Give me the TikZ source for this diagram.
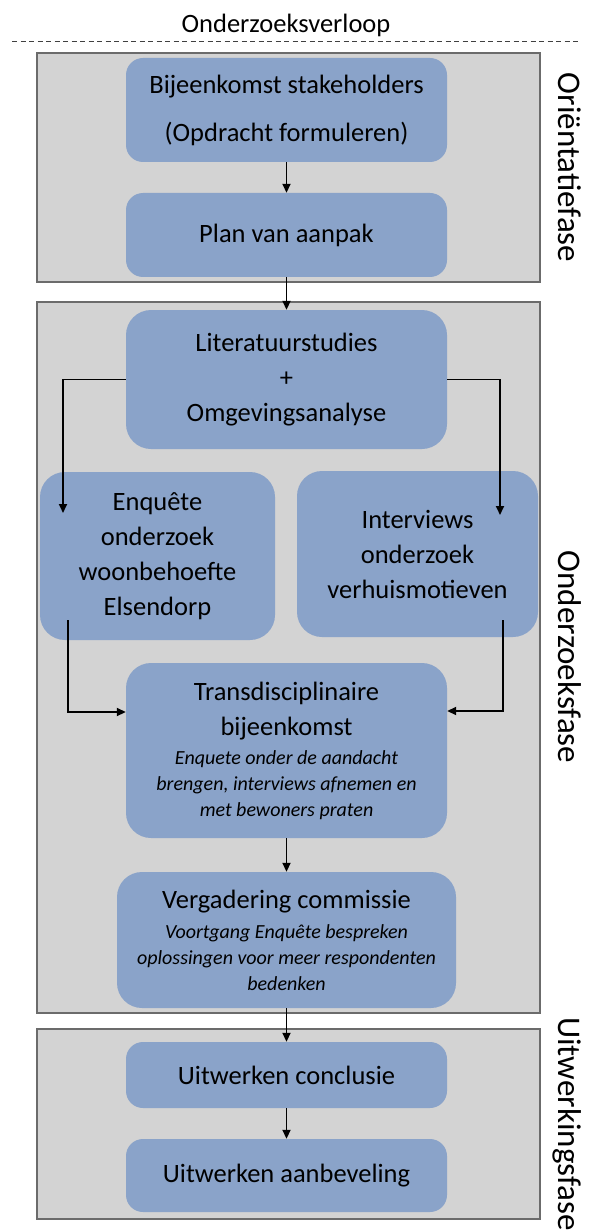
\documentclass[tikz,border=0pt]{standalone}
\usepackage{fontspec}
\setmainfont{Carlito}
\usetikzlibrary{arrows.meta,calc}
\definecolor{boxblue}{HTML}{8AA3C9}
\definecolor{phasegray}{HTML}{D3D3D3}
\definecolor{phaseedge}{HTML}{6B6B6B}
\definecolor{rulegray}{HTML}{404040}
\newcommand\subit{\fontsize{20}{26}\selectfont\itshape}
\begin{document}
\begin{tikzpicture}[x=1pt,y=-1pt,
  phase/.style={draw=phaseedge,fill=phasegray,line width=1.2pt,inner sep=0pt},
  stepbox/.style={fill=boxblue,rounded corners=17pt,align=center,inner sep=0pt,
    font=\fontsize{26.5}{35}\selectfont},
  bigbox/.style={stepbox,rounded corners=25pt},
  conn/.style={line width=1.8pt,-{Triangle[length=9pt,width=8pt]}},
  phaselabel/.style={rotate=-90,anchor=base,font=\fontsize{33}{40}\selectfont},
  toprule/.style={draw=rulegray,line width=1pt,dash pattern=on 5pt off 3.5pt}]
\useasboundingbox (0,0) rectangle (590,1230);

% title and rule
\node[anchor=base,font=\fontsize{26.5}{32}\selectfont] (title) at (286,33) {Onderzoeksverloop};
\coordinate (ruleL) at (12,42);
\coordinate (ruleR) at (578,42);
\draw[toprule] (ruleL) -- (ruleR);

% phase panels
\node[phase,minimum width=503pt,minimum height=229pt] (p1) at (288.5,167.5) {};
\node[phase,minimum width=503pt,minimum height=711pt] (p2) at (288.5,657.5) {};
\node[phase,minimum width=503pt,minimum height=190pt] (p3) at (288.5,1124) {};

% phase labels
\node[phaselabel] (l1) at (558,167.5) {Oriëntatiefase};
\node[phaselabel] (l2) at (558,657) {Onderzoeksfase};
\node[phaselabel] (l3) at (558,1124) {Uitwerkingsfase};

% steps
\node[stepbox,minimum width=321pt,minimum height=104pt] (b1) at (286.5,110)
  {Bijeenkomst stakeholders\\[13pt](Opdracht formuleren)};
\node[stepbox,minimum width=321pt,minimum height=84pt] (b2) at (286.5,235)
  {Plan van aanpak};
\node[bigbox,minimum width=321pt,minimum height=139pt] (lit) at (286.5,379.5)
  {Literatuurstudies\\+\\Omgevingsanalyse};
\node[bigbox,minimum width=235pt,minimum height=168pt] (enq) at (157.5,556)
  {Enquête\\onderzoek\\woonbehoefte\\Elsendorp};
\node[bigbox,minimum width=241pt,minimum height=166pt] (int) at (417.5,554)
  {Interviews\\onderzoek\\verhuismotieven};
\node[bigbox,minimum width=321pt,minimum height=175pt] (trans) at (286.5,750.5)
  {Transdisciplinaire\\bijeenkomst\\[-6pt]
   \subit Enquete onder de aandacht\\[-9pt]
   \subit brengen, interviews afnemen en\\[-9pt]
   \subit met bewoners praten};
\node[bigbox,minimum width=339pt,minimum height=136pt] (verg) at (286.5,940)
  {Vergadering commissie\\[-5pt]
   \subit Voortgang Enquête bespreken\\[-9pt]
   \subit oplossingen voor meer respondenten\\[-9pt]
   \subit bedenken};
\node[stepbox,minimum width=321pt,minimum height=66pt] (uc) at (286.5,1075)
  {Uitwerken conclusie};
\node[stepbox,minimum width=321pt,minimum height=73pt] (ua) at (286.5,1175.5)
  {Uitwerken aanbeveling};

% connectors
\draw[conn] (b1.south) -- (b2.north);
\draw[conn] (b2.south) -- (lit.north);
\coordinate (lA) at (63,513);
\coordinate (rA) at (500,515);
\draw[conn] (lit.west) -| (lA);
\draw[conn] (lit.east) -| (rA);
\coordinate (lB) at (68,620);
\coordinate (rB) at (503,620);
\draw[conn] (lB) |- ([yshift=38.5pt]trans.west);
\draw[conn] (rB) |- ([yshift=39.5pt]trans.east);
\draw[conn] (trans.south) -- (verg.north);
\draw[conn] (verg.south) -- (uc.north);
\draw[conn] (uc.south) -- (ua.north);
\end{tikzpicture}
\end{document}
